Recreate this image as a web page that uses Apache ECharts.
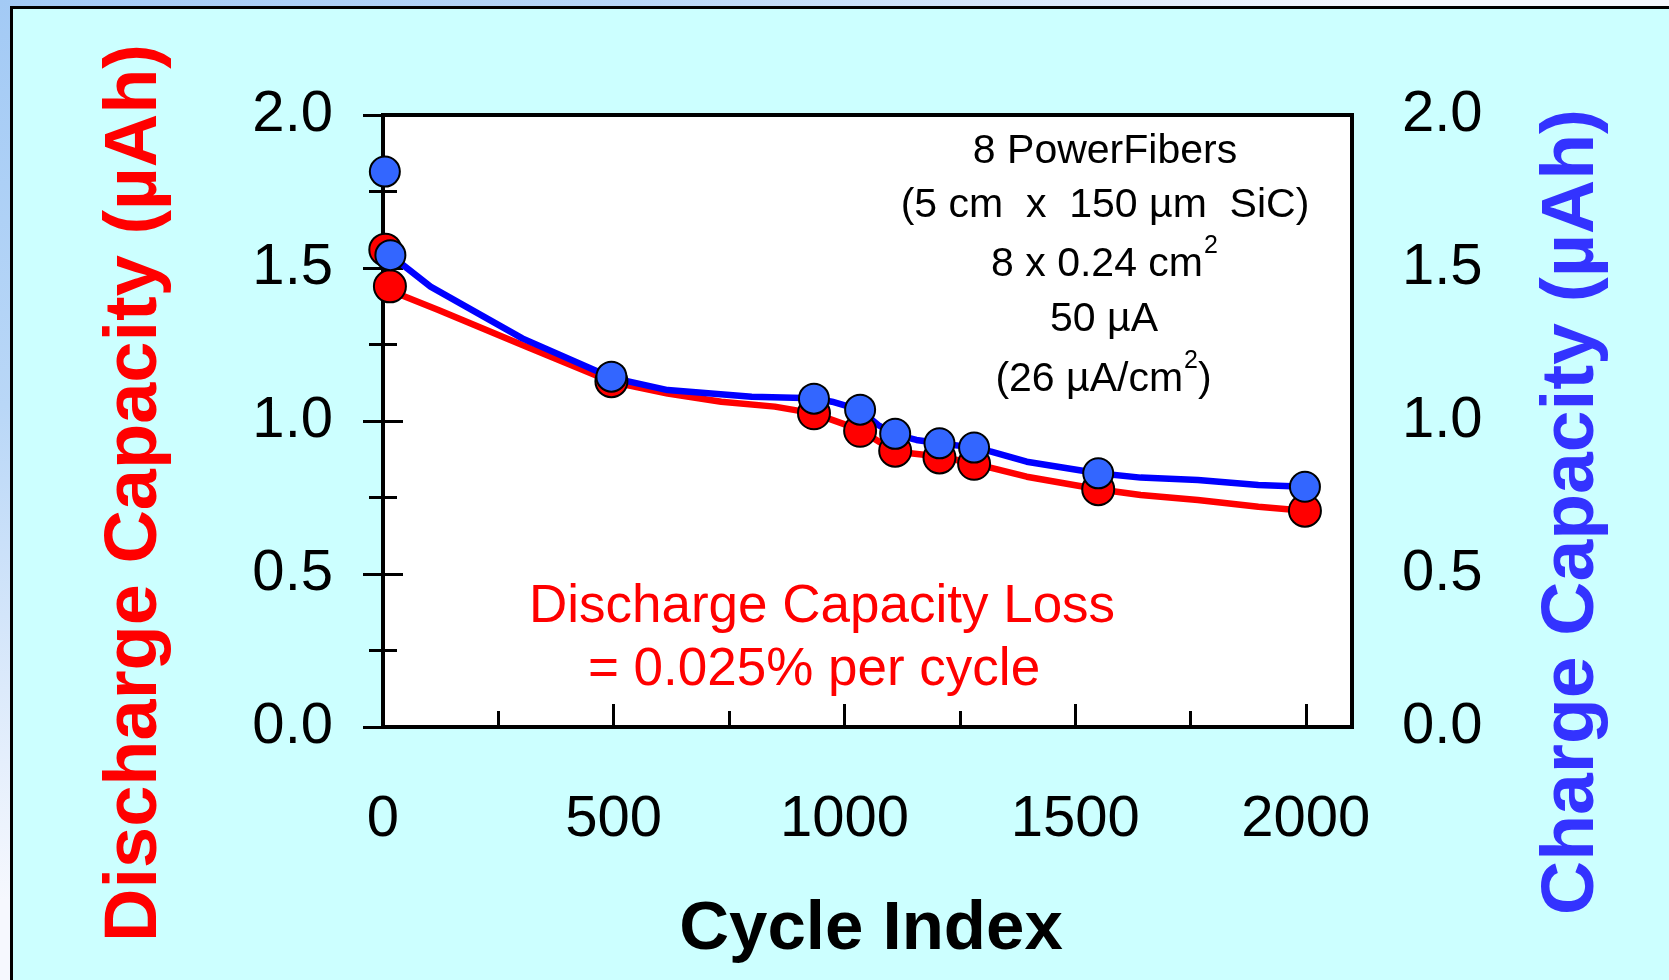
<!DOCTYPE html>
<html>
<head>
<meta charset="utf-8">
<script src="https://cdn.jsdelivr.net/npm/echarts@6/dist/echarts.min.js"></script>
<style>
  html, body { margin: 0; padding: 0; }
  body {
    width: 1669px; height: 980px; overflow: hidden; position: relative;
    background: radial-gradient(ellipse 1400px 900px at 0 0, #a3caf5 0%, #b9d7f7 45%, #f6f8fe 100%);
  }
  #frame {
    position: absolute; left: 10px; top: 6px; width: 1700px; height: 1000px;
    background: #ccffff; border-left: 3px solid #000; border-top: 3px solid #000;
  }
  #chart { position: absolute; left: 0; top: 0; width: 1669px; height: 980px; }
</style>
</head>
<body>
<div id="frame"></div>
<div id="chart"></div>
<script>
// ---- data ----
const cycles        = [5, 15, 495, 934, 1034, 1110, 1206, 1281, 1550, 1998];
const discharge     = [1.56, 1.44, 1.13, 1.025, 0.968, 0.903, 0.881, 0.860, 0.777, 0.707];
const chargeCycles  = [4, 16, 495, 934, 1034, 1110, 1206, 1281, 1550, 1998];
const charge        = [1.815, 1.542, 1.145, 1.073, 1.037, 0.958, 0.927, 0.913, 0.829, 0.785];

const dischargeFitX = [5, 15, 28, 120, 302, 495, 617, 733, 849, 934, 1034, 1109, 1206, 1281, 1395, 1550, 1642, 1766, 1897, 1998];
const dischargeFitY = [1.56, 1.44, 1.418, 1.363, 1.248, 1.128, 1.090, 1.063, 1.047, 1.025, 0.971, 0.900, 0.884, 0.861, 0.818, 0.777, 0.758, 0.742, 0.720, 0.707];
const chargeFitX    = [16, 103, 302, 495, 617, 799, 934, 973, 1034, 1073, 1109, 1156, 1206, 1281, 1318, 1395, 1550, 1642, 1766, 1897, 1998];
const chargeFitY    = [1.542, 1.439, 1.27, 1.142, 1.101, 1.079, 1.074, 1.063, 1.036, 0.987, 0.956, 0.938, 0.927, 0.913, 0.900, 0.867, 0.829, 0.815, 0.807, 0.791, 0.785];

const yTicks = [0, 0.5, 1.0, 1.5, 2.0];
const xTicks = [0, 500, 1000, 1500, 2000];

const FONT = "'Liberation Sans', Arial, Helvetica, sans-serif";

const zip = (xs, ys) => xs.map((x, i) => [x, ys[i]]);

// text measuring for superscript placement
const mctx = document.createElement('canvas').getContext('2d');
function tw(text, font) { mctx.font = font; return mctx.measureText(text).width; }

const MAIN_F = '41px ' + FONT;
const SUP_F = '25px ' + FONT;

// builds [main][sup][tail] as separate texts centred on cx
function supLine(cx, cy, main, sup, tail) {
  const w1 = tw(main, MAIN_F), w2 = tw(sup, SUP_F), w3 = tail ? tw(tail, MAIN_F) : 0;
  const x0 = cx - (w1 + w2 + w3) / 2;
  const els = [
    { type: 'text', x: x0, y: cy, z: 10,
      style: { text: main, font: MAIN_F, fill: '#000', align: 'left', verticalAlign: 'middle' } },
    { type: 'text', x: x0 + w1 + 1, y: cy - 19, z: 10,
      style: { text: sup, font: SUP_F, fill: '#000', align: 'left', verticalAlign: 'middle' } }
  ];
  if (tail) els.push({ type: 'text', x: x0 + w1 + w2 + 1, y: cy, z: 10,
      style: { text: tail, font: MAIN_F, fill: '#000', align: 'left', verticalAlign: 'middle' } });
  return els;
}

const chart = echarts.init(document.getElementById('chart'), null, { renderer: 'canvas' });

const yAxisCommon = {
  type: 'value', min: yTicks[0], max: yTicks[yTicks.length - 1], interval: yTicks[1] - yTicks[0],
  axisLine: { show: true, lineStyle: { color: '#000', width: 4 } },
  axisTick: { show: true, inside: true, length: 20, lineStyle: { color: '#000', width: 3 } },
  minorTick: { show: true, splitNumber: 2, length: 14, lineStyle: { color: '#000', width: 3 } },
  splitLine: { show: false },
  minorSplitLine: { show: false },
  axisLabel: {
    show: true, color: '#000', fontSize: 58, fontFamily: FONT, margin: 50,
    padding: [8, 0, 0, 0],
    formatter: v => v.toFixed(1)
  }
};

const option = {
  animation: false,
  backgroundColor: 'transparent',
  grid: {
    left: 383, right: 317, top: 115, bottom: 253,
    show: true, backgroundColor: '#ffffff', borderColor: '#000', borderWidth: 4
  },
  xAxis: [
    {
      type: 'value', min: 0, max: 2100, interval: 500, position: 'bottom',
      axisLine: { show: true, lineStyle: { color: '#000', width: 4 } },
      axisTick: { show: true, inside: true, length: 23, lineStyle: { color: '#000', width: 3 } },
      splitLine: { show: false },
      axisLabel: {
        show: true, color: '#000', fontSize: 58, fontFamily: FONT, margin: 64,
        showMaxLabel: false,
        formatter: v => (xTicks.indexOf(v) >= 0 ? String(v) : '')
      }
    },
    {
      type: 'value', min: 0, max: 2100, interval: 250, position: 'bottom',
      axisLine: { show: false },
      axisTick: { show: true, inside: true, length: 16, lineStyle: { color: '#000', width: 3 } },
      splitLine: { show: false },
      axisLabel: { show: false }
    }
  ],
  yAxis: [
    Object.assign({}, yAxisCommon, { position: 'left' }),
    Object.assign({}, yAxisCommon, { position: 'right' })
  ],
  series: [
    {
      name: 'Discharge fit', type: 'line', xAxisIndex: 0, yAxisIndex: 0,
      data: zip(dischargeFitX, dischargeFitY), showSymbol: false, symbol: 'none',
      lineStyle: { color: '#ff0000', width: 6.5 }, z: 2
    },
    {
      name: 'Charge fit', type: 'line', xAxisIndex: 0, yAxisIndex: 1,
      data: zip(chargeFitX, chargeFitY), showSymbol: false, symbol: 'none',
      lineStyle: { color: '#0000ff', width: 6.5 }, z: 3
    },
    {
      name: 'Discharge Capacity', type: 'scatter', xAxisIndex: 0, yAxisIndex: 0,
      data: zip(cycles, discharge), symbol: 'circle', symbolSize: 32,
      itemStyle: { color: '#ff0000', borderColor: '#000', borderWidth: 2, opacity: 1 }, z: 4
    },
    {
      name: 'Charge Capacity', type: 'scatter', xAxisIndex: 0, yAxisIndex: 1,
      data: zip(chargeCycles, charge), symbol: 'circle', symbolSize: 30,
      itemStyle: { color: '#3366ff', borderColor: '#000', borderWidth: 2, opacity: 1 }, z: 5
    }
  ],
  graphic: [
    { type: 'text', x: 136, y: 493, rotation: Math.PI / 2, z: 10,
      style: { text: 'Discharge Capacity (µAh)', font: 'bold 74px ' + FONT, fill: '#ff0000', align: 'center', verticalAlign: 'middle' } },
    { type: 'text', x: 1572, y: 512, rotation: Math.PI / 2, z: 10,
      style: { text: 'Charge Capacity (µAh)', font: 'bold 75px ' + FONT, fill: '#3333ff', align: 'center', verticalAlign: 'middle' } },
    { type: 'text', x: 871, y: 930, z: 10,
      style: { text: 'Cycle Index', font: 'bold 69px ' + FONT, fill: '#000', align: 'center', verticalAlign: 'middle' } },

    { type: 'text', x: 1105, y: 152, z: 10,
      style: { text: '8 PowerFibers', font: MAIN_F, fill: '#000', align: 'center', verticalAlign: 'middle' } },
    { type: 'text', x: 1105, y: 206, z: 10,
      style: { text: '(5 cm  x  150 µm  SiC)', font: MAIN_F, fill: '#000', align: 'center', verticalAlign: 'middle' } }
  ]
  .concat(supLine(1104, 265, '8 x 0.24 cm', '2', ''))
  .concat([
    { type: 'text', x: 1104, y: 320, z: 10,
      style: { text: '50 µA', font: MAIN_F, fill: '#000', align: 'center', verticalAlign: 'middle' } }
  ])
  .concat(supLine(1103, 380, '(26 µA/cm', '2', ')'))
  .concat([
    { type: 'text', x: 822, y: 607, z: 10,
      style: { text: 'Discharge Capacity Loss', font: '53px ' + FONT, fill: '#ff0000', align: 'center', verticalAlign: 'middle' } },
    { type: 'text', x: 814, y: 670, z: 10,
      style: { text: '= 0.025% per cycle', font: '53px ' + FONT, fill: '#ff0000', align: 'center', verticalAlign: 'middle' } }
  ])
};

chart.setOption(option);
</script>
</body>
</html>
